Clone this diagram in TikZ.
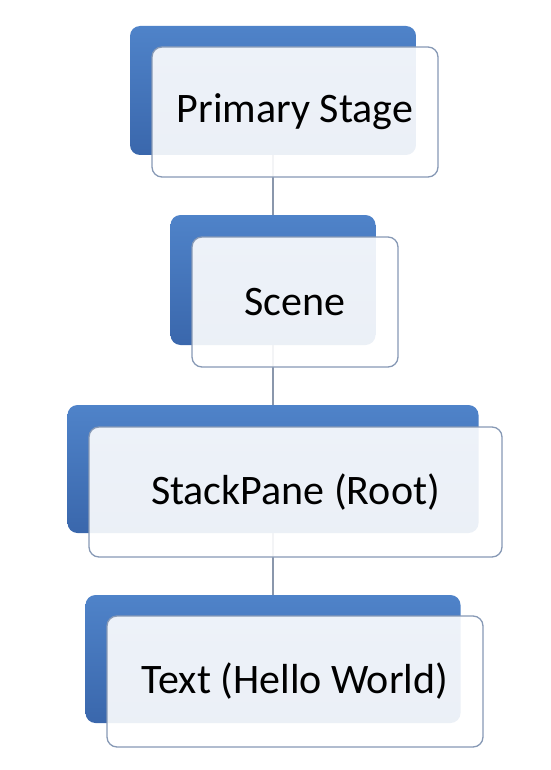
\documentclass[tikz,border=0pt]{standalone}
\usepackage{fontspec}
\setmainfont{Carlito}
\usetikzlibrary{backgrounds}
\definecolor{paneltop}{HTML}{4F83C9}
\definecolor{panelbot}{HTML}{3A67AC}
\definecolor{cardedge}{HTML}{8799B5}
\definecolor{linkgray}{HTML}{8A97AC}
\begin{document}
\begin{tikzpicture}[x=1pt, y=-1pt,
    back/.style={rounded corners=10pt, top color=paneltop, bottom color=panelbot, inner sep=0pt},
    card/.style={rounded corners=10pt, draw=cardedge, line width=1.3pt, fill=white,
      fill opacity=0.9, text opacity=1, inner sep=0pt, font=\fontsize{42}{50}\selectfont},
    link/.style={draw=linkgray, line width=1.3pt}]
    \useasboundingbox (0,0) rectangle (550,770);

    % Blue panels behind (centred on x = 273)
    \node[back, minimum width=286pt, minimum height=129pt] (b1) at (273, 90.5) {};
    \node[back, minimum width=205pt, minimum height=130pt] (b2) at (273, 280)  {};
    \node[back, minimum width=411pt, minimum height=128pt] (b3) at (273, 469)  {};
    \node[back, minimum width=375pt, minimum height=128pt] (b4) at (273, 659)  {};

    % Front cards, shifted down-right
    \node[card, minimum width=286pt, minimum height=130pt] (stage) at (295, 112)   {Primary Stage};
    \node[card, minimum width=206pt, minimum height=130pt] (scene) at (295, 302)   {Scene};
    \node[card, minimum width=413pt, minimum height=130pt] (root)  at (295.5, 492) {StackPane (Root)};
    \node[card, minimum width=376pt, minimum height=131pt] (text)  at (295, 681.5) {Text (Hello World)};

    % Links between the panels
    \begin{scope}[on background layer]
      \foreach \a/\b in {b1/b2, b2/b3, b3/b4}
        \draw[link] (\a) -- (\b);
    \end{scope}
\end{tikzpicture}
\end{document}
